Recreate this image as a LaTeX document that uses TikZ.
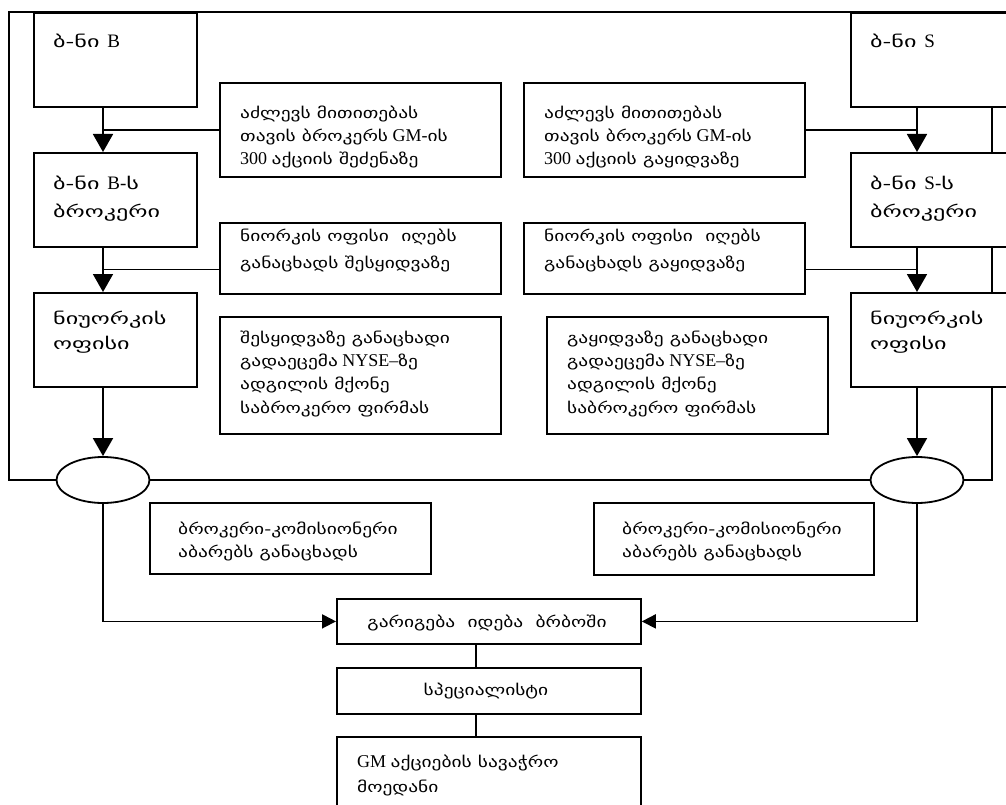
\documentclass[tikz,border=0pt]{standalone}
\usepackage{fontspec}
\setmainfont{Liberation Serif}
\newfontfamily\kafontA[FakeStretch=1.3,Scale=0.83]{DejaVu Sans}
\newfontfamily\kafontB[FakeStretch=1.5,Scale=0.847]{DejaVu Sans}
\newcommand\ka[1]{{\kafontA #1}}
\newcommand\kb[1]{{\kafontB #1}}
\usetikzlibrary{arrows.meta,shapes.geometric,calc}
\tikzset{
  box/.style={draw, line width=1.8pt, fill=white, rectangle, anchor=north west, inner sep=0pt},
  oval/.style={draw, line width=1.8pt, fill=white, ellipse, minimum width=93pt, minimum height=46pt, inner sep=0pt},
  conn/.style={line width=1.8pt},
  arr/.style={conn, -{Triangle[width=20pt,length=18pt]}},
  sarr/.style={conn, -{Triangle[width=14pt,length=14pt]}},
  txt/.style={anchor=base west, align=left, inner sep=0pt},
  fs/.style={font=\fontsize{18}{#1}\selectfont},
  fsb/.style={font=\fontsize{19}{#1}\selectfont},
}
\begin{document}
\begin{tikzpicture}[x=1pt,y=-1pt]
\useasboundingbox (0,0) rectangle (1006,805);
% ellipses
\node[oval] (eL) at (103,480) {};
\node[oval] (eR) at (917,480) {};
\coordinate (tl) at (9,12);
\coordinate (tr) at (1012,12);
\coordinate (rr) at (992,12);
% outer loop
\draw[conn] (eL.west) -| (tl) -- (tr);
\draw[conn] (eR.east) -| (rr);
\draw[conn] (eL.east) -- (eR.west);
% left column
\node[box, minimum width=163pt, minimum height=94pt] (bB) at (33,12) {};
\node[box, minimum width=163pt, minimum height=94pt] (bBb) at (33,152) {};
\node[box, minimum width=163pt, minimum height=94pt] (nyL) at (33,292) {};
% right column
\node[box, minimum width=230pt, minimum height=94pt] (bS) at (850,12) {};
\node[box, minimum width=230pt, minimum height=94pt] (bSb) at (850,152) {};
\node[box, minimum width=230pt, minimum height=94pt] (nyR) at (850,292) {};
% middle boxes
\node[box, minimum width=281pt, minimum height=94pt] (iL) at (219,82) {};
\node[box, minimum width=281pt, minimum height=71pt] (rL) at (219,222) {};
\node[box, minimum width=281pt, minimum height=117pt] (tL) at (219,316) {};
\node[box, minimum width=281pt, minimum height=94pt] (iR) at (523,82) {};
\node[box, minimum width=281pt, minimum height=71pt] (rR) at (523,222) {};
\node[box, minimum width=281pt, minimum height=117pt] (tR) at (546,316) {};
\node[box, minimum width=281pt, minimum height=71pt] (cL) at (149,502) {};
\node[box, minimum width=280pt, minimum height=72pt] (cR) at (593,502) {};
\node[box, minimum width=304pt, minimum height=45pt] (trade) at (336,598) {};
\node[box, minimum width=304pt, minimum height=46pt] (spec) at (336,667) {};
\node[box, minimum width=304pt, minimum height=100pt] (gm) at (336,736) {};
% texts (anchor = baseline of the last line)
\node[txt, fsb=26] (tbB) at (53,48) {\kb{ბ-ნი} \,B};
\node[txt, fsb=28] (tbBb) at (53,217) {\kb{ბ-ნი} \,B-\kb{ს}\\\kb{ბროკერი}};
\node[txt, fsb=25] (tnyL) at (53,349) {\kb{ნიუორკის}\\\kb{ოფისი}};
\node[txt, fsb=26] (tbS) at (870,48) {\kb{ბ-ნი} \,S};
\node[txt, fsb=28] (tbSb) at (870,217) {\kb{ბ-ნი} \,S-\kb{ს}\\\kb{ბროკერი}};
\node[txt, fsb=25] (tnyR) at (870,349) {\kb{ნიუორკის}\\\kb{ოფისი}};
\node[txt, fs=23.5] (tiL) at (240,165) {\ka{აძლევს მითითებას}\\\ka{თავის ბროკერს} GM-\ka{ის}\\300 \ka{აქციის შეძენაზე}};
\node[txt, fs=23.5] (tiR) at (544,165) {\ka{აძლევს მითითებას}\\\ka{თავის ბროკერს} GM-\ka{ის}\\300 \ka{აქციის გაყიდვაზე}};
\node[txt, fs=27] (trL) at (240,268) {\ka{ნიორკის ოფისი \ იღებს}\\\ka{განაცხადს შესყიდვაზე}};
\node[txt, fs=27] (trR) at (544,268) {\ka{ნიორკის ოფისი \ იღებს}\\\ka{განაცხადს გაყიდვაზე}};
\node[txt, fs=23.3] (ttL) at (240,413) {\ka{შესყიდვაზე განაცხადი}\\\ka{გადაეცემა} NYSE–\ka{ზე}\\\ka{ადგილის მქონე}\\\ka{საბროკერო ფირმას}};
\node[txt, fs=23.3] (ttR) at (567,413) {\ka{გაყიდვაზე განაცხადი}\\\ka{გადაეცემა} NYSE–\ka{ზე}\\\ka{ადგილის მქონე}\\\ka{საბროკერო ფირმას}};
\node[txt, fs=23] (tcL) at (178,557) {\ka{ბროკერი-კომისიონერი}\\\ka{აბარებს განაცხადს}};
\node[txt, fs=23] (tcR) at (622,557) {\ka{ბროკერი-კომისიონერი}\\\ka{აბარებს განაცხადს}};
\node[txt, fs=23, anchor=base] (ttrade) at (487,627) {\ka{გარიგება \ იდება \ ბრბოში}};
\node[txt, fs=23, anchor=base] (tspec) at (486,695) {\ka{სპეციალისტი}};
\node[txt, fs=25] (tgm) at (357,792) {GM \ka{აქციების სავაჭრო}\\\ka{მოედანი}};
% connectors left
\draw[arr] (bB.south -| eL.center) -- (bBb.north -| eL.center);
\draw[conn] (iL.west) -- (iL.west -| eL.center);
\draw[arr] (bBb.south -| eL.center) -- (nyL.north -| eL.center);
\draw[conn] ($(rL.west)+(0,11)$) -- ($(rL.west -| eL.center)+(0,11)$);
\draw[arr] (nyL.south -| eL.center) -- (eL.north);
% connectors right
\draw[arr] (bS.south -| eR.center) -- (bSb.north -| eR.center);
\draw[conn] (iR.east) -- (iR.east -| eR.center);
\draw[arr] (bSb.south -| eR.center) -- (nyR.north -| eR.center);
\draw[conn] ($(rR.east)+(0,11)$) -- ($(rR.east -| eR.center)+(0,11)$);
\draw[arr] (nyR.south -| eR.center) -- (eR.north);
% bottom
\draw[sarr] (eL.south) |- (trade.west);
\draw[sarr] (eR.south) |- (trade.east);
\draw[conn] ($(cL.south west)+(94,0)$) -- ($(cL.south west)+(94,0)$ |- trade.west);
\draw[conn] ($(cR.south west)+(164,0)$) -- ($(cR.south west)+(164,0)$ |- trade.east);
\draw[conn] ($(trade.south west)+(140,0)$) -- ($(spec.north west)+(140,0)$);
\draw[conn] ($(spec.south west)+(140,0)$) -- ($(gm.north west)+(140,0)$);
\end{tikzpicture}
\end{document}
